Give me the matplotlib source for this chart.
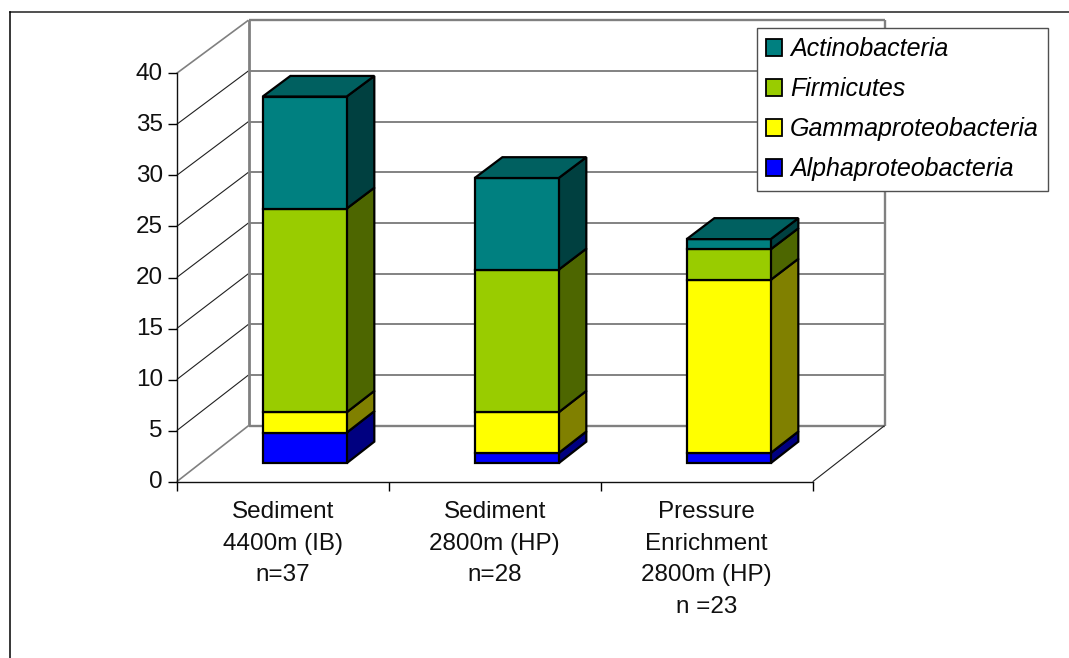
import matplotlib.pyplot as plt
from matplotlib.lines import Line2D
from matplotlib.patches import Patch
from matplotlib.transforms import ScaledTranslation

plt.rcParams["font.family"] = ["Liberation Sans", "DejaVu Sans"]

categories = ["Sediment\n4400m (IB)\nn=37", "Sediment\n2800m (HP)\nn=28",
              "Pressure\nEnrichment\n2800m (HP)\nn =23"]
alpha = [3, 1, 1]
gamma = [2, 4, 17]
firmicutes = [20, 14, 3]
actino = [11, 9, 1]
y_ticks = [0, 5, 10, 15, 20, 25, 30, 35, 40]

# bottom to top: values, front colour, side colour, legend label
series = [
    (alpha, "#0000ff", "#000080", "Alphaproteobacteria"),
    (gamma, "#ffff00", "#808000", "Gammaproteobacteria"),
    (firmicutes, "#99cc00", "#4d6600", "Firmicutes"),
    (actino, "#008080", "#004040", "Actinobacteria"),
]
top_color = "#006060"

W, H = 1069, 658
fig = plt.figure(figsize=(W / 100, H / 100), dpi=100, facecolor="white")
ax = fig.add_axes([176.7 / W, (H - 481.7) / H, 636 / W, 408.4 / H])
ax.set_xlim(0, 3)
ax.set_ylim(0, 40)
ax.patch.set_visible(False)


# oblique view: d is depth, 0 at the front axis and 1 at the back wall
def proj(x, v, d):
    return x + d * 71.8 / 212, v * (1 - 0.007 * d) + d * 5.485


def seg(x0, v0, d0, x1, v1, d1, **kw):
    a = proj(x0, v0, d0)
    b = proj(x1, v1, d1)
    ax.plot([a[0], b[0]], [a[1], b[1]], clip_on=False, solid_capstyle="butt", **kw)


wall = dict(color="#808080", lw=1.7, zorder=1)
grid = dict(color="#606060", lw=1.1, zorder=1)
diag = dict(color="#202020", lw=0.8, zorder=1)

for t in y_ticks[1:-1]:
    seg(0, t, 1, 3, t, 1, **grid)
    seg(0, t, 0, 0, t, 1, **diag)
seg(0, 40, 1, 3, 40, 1, **wall)
seg(0, 0, 1, 3, 0, 1, **wall)
seg(0, 0, 1, 0, 40, 1, lw=2.0, color="#808080", zorder=1)
seg(3, 0, 1, 3, 40, 1, **wall)
seg(0, 40, 0, 0, 40, 1, color="#808080", lw=1.2, zorder=1)
seg(0, 0, 0, 0, 0, 1, color="#808080", lw=1.2, zorder=1)
seg(3, 0, 0, 3, 0, 1, **diag)

bar_start = 0.294
bar_width = 0.396
d0, d1 = 0.33, 0.715
outline = dict(edgecolor="black", lw=1.6, joinstyle="miter", clip_on=False, zorder=3)

for i in range(len(categories)):
    x0 = i + bar_start
    x1 = x0 + bar_width
    base = 0
    for values, front, side, label in series:
        top = base + values[i]
        ax.fill(*zip(proj(x1, base, d0), proj(x1, base, d1), proj(x1, top, d1), proj(x1, top, d0)),
                facecolor=side, **outline)
        ax.fill(*zip(proj(x0, base, d0), proj(x1, base, d0), proj(x1, top, d0), proj(x0, top, d0)),
                facecolor=front, **outline)
        base = top
    ax.fill(*zip(proj(x0, base, d0), proj(x1, base, d0), proj(x1, base, d1), proj(x0, base, d1)),
            facecolor=top_color, **outline)

for s in ["top", "right"]:
    ax.spines[s].set_visible(False)
for s in ["left", "bottom"]:
    ax.spines[s].set_linewidth(1.0)
    ax.spines[s].set_color("#101010")

ax.set_yticks(y_ticks)
ax.set_yticklabels([str(t) for t in y_ticks], fontsize=17.5, color="#101010")
ax.tick_params(axis="y", length=6.5, width=1.0, pad=3.5)
# the reference labels sit about 2px above their ticks
for lab in ax.get_yticklabels():
    lab.set_transform(lab.get_transform() + ScaledTranslation(0, 2 / 100, fig.dpi_scale_trans))
ax.set_xticks([0, 1, 2, 3])
ax.set_xticklabels([])
ax.tick_params(axis="x", which="major", length=6.5, width=1.0)
ax.set_xticks([0.5, 1.5, 2.5], minor=True)
ax.set_xticklabels(categories, minor=True, fontsize=17.5, color="#101010", linespacing=1.56)
ax.tick_params(axis="x", which="minor", length=0, pad=14)

handles = [Patch(facecolor=c[1], edgecolor="black", lw=1.3, label=c[3]) for c in reversed(series)]
leg = ax.legend(handles=handles, loc="upper left",
                bbox_to_anchor=(756.7 / W, (H - 27.7) / H), bbox_transform=fig.transFigure,
                borderaxespad=0, fancybox=False, framealpha=1, edgecolor="#505050",
                prop=dict(size=18.0, style="italic"), handlelength=0.62, handleheight=0.62,
                handletextpad=0.33, labelspacing=0.64, borderpad=0.38)
leg.get_frame().set_linewidth(1.0)
leg.set_zorder(5)

# outer chart frame, cut off at the right and bottom
fig.add_artist(Line2D([10 / W, 1], [(H - 11.5) / H] * 2, color="#202020", lw=1.1))
fig.add_artist(Line2D([10 / W, 10 / W], [0, (H - 11.5) / H], color="black", lw=1.1))

fig.savefig("out.png", dpi=100)
